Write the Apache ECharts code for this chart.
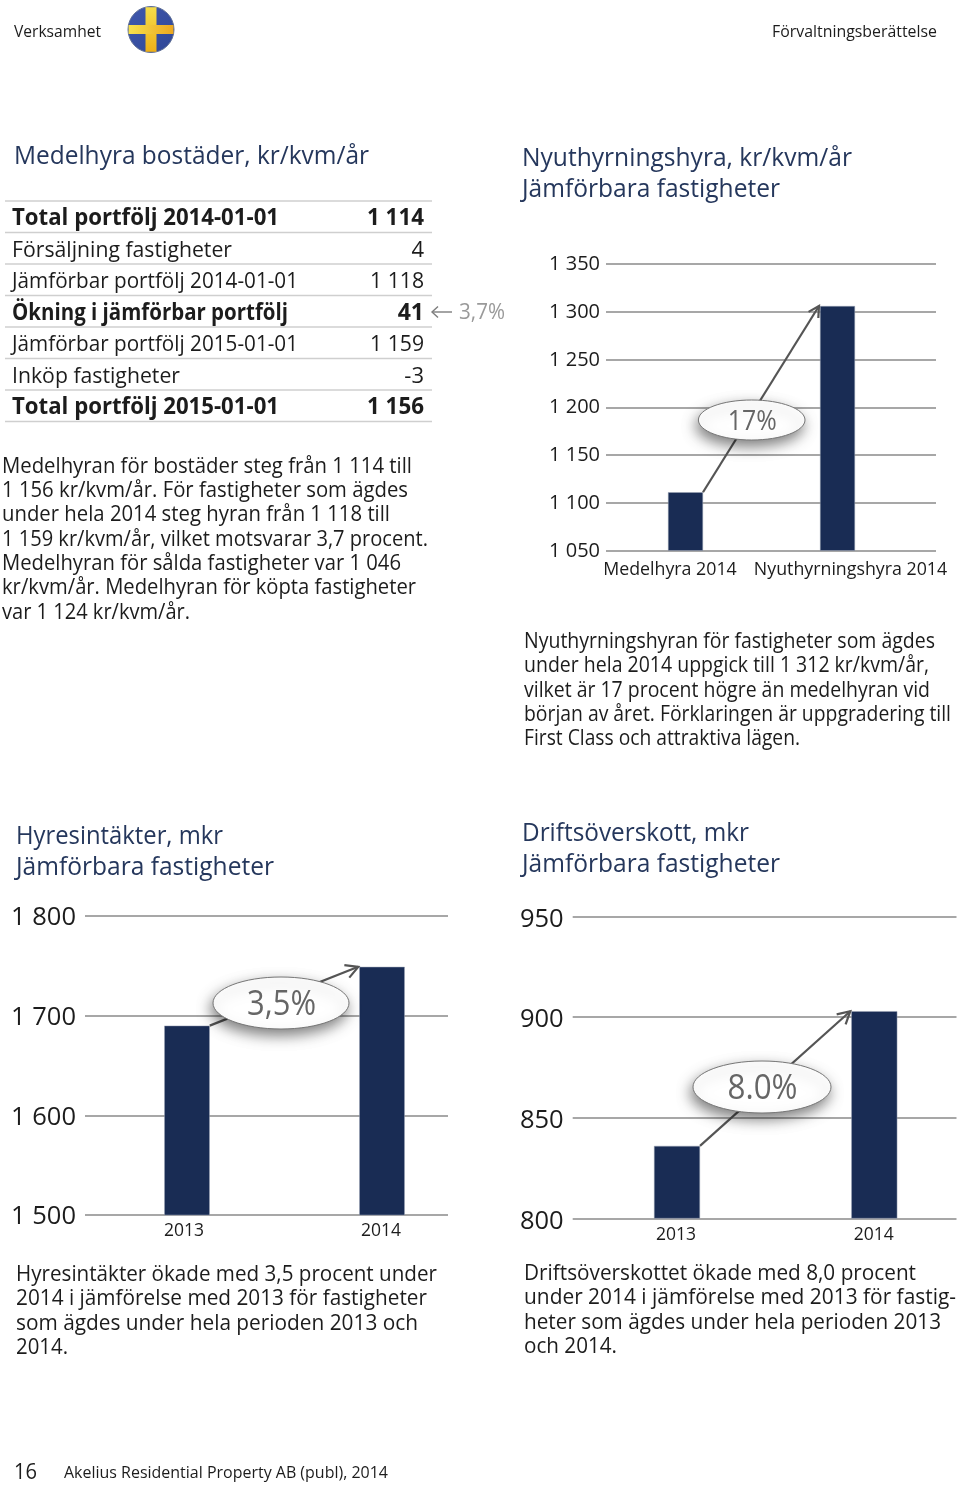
<!DOCTYPE html>
<html><head><meta charset="utf-8">
<style>html,body{margin:0;padding:0;background:#fff}#c{width:960px;height:1485px}</style>
<script src="https://cdn.jsdelivr.net/npm/echarts@6/dist/echarts.min.js"></script>
</head><body><div id="c"></div>
<script>
// ---- data ----
const rentCategories = ['Medelhyra 2014', 'Nyuthyrningshyra 2014'];
const rentValues = [1111, 1306];
const incomeCategories = ['2013', '2014'];
const incomeValues = [1690, 1749];
const surplusCategories = ['2013', '2014'];
const surplusValues = [836, 903];

const tableLabels = ['Total portfölj 2014-01-01','Försäljning fastigheter','Jämförbar portfölj 2014-01-01','Ökning i jämförbar portfölj','Jämförbar portfölj 2015-01-01','Inköp fastigheter','Total portfölj 2015-01-01'];
const tableValues = ['1 114','4','1 118','41','1 159','-3','1 156'];
const tableBold = [true,false,false,true,false,false,true];

const paraRent = ['Medelhyran för bostäder steg från 1 114 till','1 156 kr/kvm/år. För fastigheter som ägdes','under hela 2014 steg hyran från 1 118 till','1 159 kr/kvm/år, vilket motsvarar 3,7 procent.','Medelhyran för sålda fastigheter var 1 046','kr/kvm/år. Medelhyran för köpta fastigheter','var 1 124 kr/kvm/år.'];
const paraNew = ['Nyuthyrningshyran för fastigheter som ägdes','under hela 2014 uppgick till 1 312 kr/kvm/år,','vilket är 17 procent högre än medelhyran vid','början av året. Förklaringen är uppgradering till','First Class och attraktiva lägen.'];
const paraIncome = ['Hyresintäkter ökade med 3,5 procent under','2014 i jämförelse med 2013 för fastigheter','som ägdes under hela perioden 2013 och','2014.'];
const paraSurplus = ['Driftsöverskottet ökade med 8,0 procent','under 2014 i jämförelse med 2013 för fastig-','heter som ägdes under hela perioden 2013','och 2014.'];

// ---- style ----
const FONT = '"Open Sans"';
const NAVY = '#192c54', TITLE = '#25375c', INK = '#1c1c1c', RULE = '#8a8a8a';
const spaced = v => { const s = String(v); return s.length > 3 ? s.slice(0, -3) + ' ' + s.slice(-3) : s; };

const chart = echarts.init(document.getElementById('c'), null, {renderer:'canvas'});
const meter = document.createElement('canvas').getContext('2d');

const graphics = [];
// w: width the string should occupy on the page (the reference face is narrower than Open Sans)
function text(x, y, str, size, o = {}) {
  let sx = 1;
  if (o.w) {
    meter.font = (o.bold?'700 ':'400 ') + size + 'px ' + FONT;
    sx = o.w / meter.measureText(str).width;
  }
  graphics.push({type:'text', x, y, z:o.z||50, scaleX:sx, silent:true,
    style:{text:str, fontFamily:FONT, fontSize:size, fontWeight:o.bold?700:400, fill:o.fill||INK,
      textAlign:o.align||'left', verticalAlign:'middle'}});
}
function para(x, ys, rights, lines, size) { lines.forEach((l,i)=>text(x, ys[i], l, size, {w:rights[i]-x})); }

// header / footer
text(14, 32, 'Verksamhet', 16.5, {w:87});
text(937, 32, 'Förvaltningsberättelse', 16.5, {align:'right', w:165});
text(14, 1473, '16', 22.5, {w:23});
text(64, 1473, 'Akelius Residential Property AB (publ), 2014', 16.5, {w:324});

// flag
graphics.push({type:'circle', z:40, shape:{cx:151,cy:29.5,r:23}, style:{fill:{type:'linear',x:0,y:0,x2:1,y2:1,colorStops:[{offset:0,color:'#3f57ad'},{offset:1,color:'#2f4796'}]}, stroke:'#5f6f95', lineWidth:1}});
graphics.push({type:'rect', z:41, shape:{x:145.5,y:7.2,width:11,height:44.6}, style:{fill:{type:'linear',x:0,y:0,x2:0,y2:1,colorStops:[{offset:0,color:'#f4dc4a'},{offset:1,color:'#eeb018'}]}}});
graphics.push({type:'rect', z:41, shape:{x:128.6,y:25,width:44.8,height:9}, style:{fill:{type:'linear',x:0,y:0,x2:1,y2:0,colorStops:[{offset:0,color:'#f7e04c'},{offset:1,color:'#eca820'}]}}});

// titles
const T = (x,y,s,right) => text(x, y, s, 26, {fill:TITLE, w:right-x});
T(14, 157, 'Medelhyra bostäder, kr/kvm/år', 369);
T(522, 159, 'Nyuthyrningshyra, kr/kvm/år', 852);
T(522, 190, 'Jämförbara fastigheter', 780);
T(16, 837, 'Hyresintäkter, mkr', 223);
T(16, 868, 'Jämförbara fastigheter', 274);
T(522, 834, 'Driftsöverskott, mkr', 749);
T(522, 865, 'Jämförbara fastigheter', 780);

// table
const ruleYs = [201, 232.5, 264, 295.5, 327, 358.5, 390, 421.5];
const tableRights = [279, 232, 298, 288, 298, 180, 279];
ruleYs.forEach(y => graphics.push({type:'line', z:30, shape:{x1:5,y1:y,x2:432,y2:y}, style:{stroke:'#cfcfcf', lineWidth:1.5}}));
tableLabels.forEach((l,i) => {
  const y = (ruleYs[i]+ruleYs[i+1])/2 + 2, b = tableBold[i], fs = b ? 23 : 22;
  text(12, y, l, fs, {bold:b, w:tableRights[i]-12});
  text(424, y, tableValues[i], fs, {bold:b, align:'right', w: tableValues[i].length>2 ? (b?57:54) : undefined});
});
// arrow from the 3,7% note
graphics.push({type:'polyline', z:30, shape:{points:[[438,306.5],[432,312],[438,317.5]]}, style:{stroke:'#7d7d7d', lineWidth:1.4, fill:null}});
graphics.push({type:'line', z:30, shape:{x1:432,y1:312,x2:452,y2:312}, style:{stroke:'#7d7d7d', lineWidth:1.4}});
text(459, 313, '3,7%', 22, {fill:'#9a9a9a', w:46});

// paragraphs
para(2, [467,491,515,540,564,588,613], [412,408,390,428,401,416,190], paraRent, 21.5);
para(524, [642,666,691,715,739], [935,929,930,951,800], paraNew, 21.5);
para(16, [1275,1299,1324,1348], [437,427,418,68], paraIncome, 21.5);
para(524, [1274,1298,1323,1347], [916,956,941,617], paraSurplus, 21.5);

// callouts
function callout(cx, cy, rx, ry, label, size, w) {
  graphics.push({type:'ellipse', z:100, shape:{cx,cy,rx,ry}, style:{fill:'#fff', stroke:'#777', lineWidth:1, shadowBlur:14, shadowColor:'rgba(0,0,0,.5)', shadowOffsetX:-2, shadowOffsetY:6}});
  text(cx+.5, cy+2, label, size, {fill:'#666', align:'center', z:101, w});
}
callout(751.7, 420, 53.3, 20, '17%', 27, 49);
callout(281, 1003, 68, 26, '3,5%', 35, 69);
callout(762, 1087, 69, 26, '8.0%', 35, 70);

// ---- charts: a ruled grid (y axis + gridlines) and a bar grid on the same y scale whose
// two bands are centred on the bars ----
const grid=[], xAxis=[], yAxis=[], series=[];
function addChart(c) {
  const i = grid.length, band = c.c2-c.c1;
  grid.push({outerBoundsMode:'none', left:c.ruleL, width:c.ruleR-c.ruleL, top:c.top, height:c.bot-c.top});
  xAxis.push({gridIndex:i, type:'value', min:0, max:1, show:false});
  yAxis.push({gridIndex:i, type:'value', min:c.min, max:c.max, interval:c.step,
    axisLine:{show:false}, axisTick:{show:false},
    splitLine:{show:true, lineStyle:{color:RULE, width:1.5}},
    axisLabel:{formatter:v=>'{v|'+spaced(v)+'}', margin:c.lm, showMinLabel:true, showMaxLabel:true,
      rich:{v:{fontFamily:FONT, fontSize:c.ls, color:INK, padding:[c.ldy,0,0,0]}}}});
  grid.push({outerBoundsMode:'none', left:c.c1-band/2, width:band*2, top:c.top, height:c.bot-c.top});
  xAxis.push({gridIndex:i+1, type:'category',
    data:c.cats.map((n,k)=>({value:n, textStyle:c.pad?{padding:c.pad[k]}:{}})),
    axisLine:{show:false}, axisTick:{show:false},
    axisLabel:{interval:0, margin:c.xm, fontFamily:FONT, fontSize:c.xs, color:INK, hideOverlap:false}});
  yAxis.push({gridIndex:i+1, type:'value', min:c.min, max:c.max, interval:c.step, show:false, splitLine:{show:false}});
  series.push({type:'bar', xAxisIndex:i+1, yAxisIndex:i+1, data:c.vals, barWidth:c.bw, z:3,
    itemStyle:{color:NAVY, borderColor:'#9aa3b5', borderWidth:.5}});
  series.push({type:'custom', xAxisIndex:i+1, yAxisIndex:i+1, z:4, silent:true, clip:false,
    data:[[0,c.vals[0],1,c.vals[1]]], encode:{x:0,y:1},
    renderItem:(p,api)=>{
      const a=api.coord([0,api.value(1)]), b=api.coord([1,api.value(3)]);
      const x1=a[0]+c.bw/2, y1=a[1], x2=b[0]-c.bw/2-1, y2=b[1];
      const ang=Math.atan2(y2-y1,x2-x1), h=c.head, s={stroke:'#555', lineWidth:2.2, fill:null};
      const pt=d=>[x2-h*Math.cos(ang+d), y2-h*Math.sin(ang+d)];
      return {type:'group', children:[
        {type:'line', shape:{x1,y1,x2,y2}, style:s},
        {type:'polyline', shape:{points:[pt(.5),[x2,y2],pt(-.5)]}, style:s}]};
    }});
}
addChart({cats:rentCategories, vals:rentValues, min:1050,max:1350,step:50, ruleL:606,ruleR:936, top:264,bot:550.5, c1:685.5,c2:837.5,bw:35, ls:20,lm:6,ldy:1, xs:17.8,xm:10, pad:[[0,31,0,0],[0,0,0,26]], head:12});
addChart({cats:incomeCategories, vals:incomeValues, min:1500,max:1800,step:100, ruleL:85,ruleR:448, top:916,bot:1215, c1:187,c2:382,bw:45.5, ls:25.5,lm:9,ldy:4, xs:17.5,xm:7, pad:[[0,6,0,0],[0,2,0,0]], head:14});
addChart({cats:surplusCategories, vals:surplusValues, min:800,max:950,step:50, ruleL:572.7,ruleR:956.5, top:916.7,bot:1218.3, c1:677,c2:874.3,bw:46, ls:25.5,lm:9,ldy:6, xs:17.5,xm:8, pad:[[0,2,0,0],[0,1,0,0]], head:14});

chart.setOption({animation:false, backgroundColor:'#fff', tooltip:{show:false}, grid, xAxis, yAxis, series, graphic:{elements:graphics}});
</script></body></html>
